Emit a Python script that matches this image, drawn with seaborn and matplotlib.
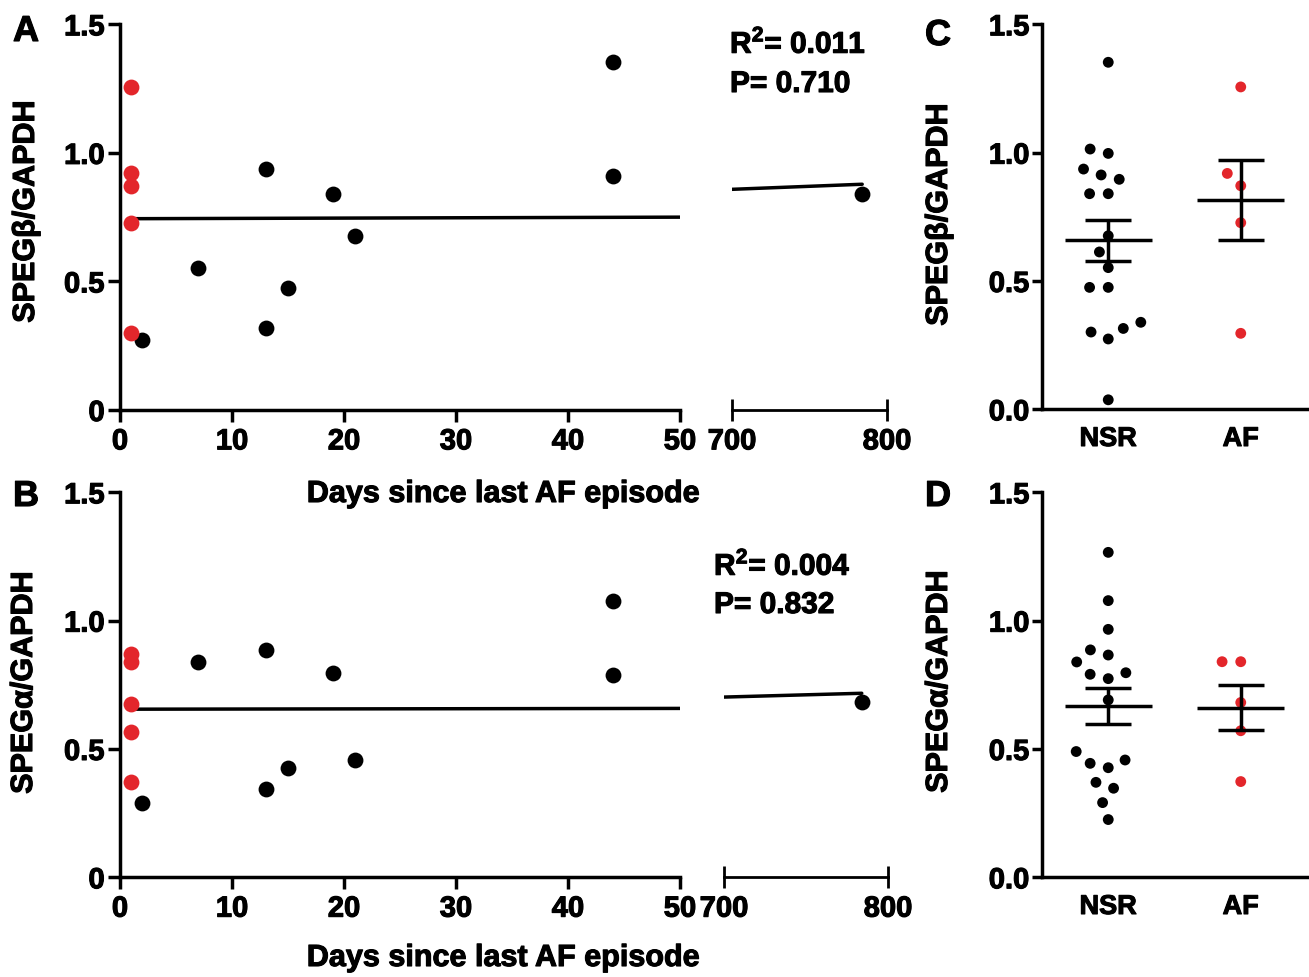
import numpy as np
import pandas as pd
import seaborn as sns
import matplotlib.pyplot as plt
import matplotlib.patheffects as pe

RED = '#e3262b'

# ---- data ----
# A: SPEG beta vs days since last AF episode
a_days_black = [2, 7, 13, 13, 15, 19, 21, 44, 44, 784]
a_vals_black = [0.273, 0.552, 0.936, 0.318, 0.476, 0.840, 0.678, 1.354, 0.911, 0.840]
a_days_red = [1, 1, 1, 1, 1]
a_vals_red = [1.258, 0.920, 0.872, 0.727, 0.298]
a_fit_left_x = [1, 50]
a_fit_left_y = [0.744, 0.750]
a_fit_right_x = [699, 784]
a_fit_right_y = [0.858, 0.878]
a_stats = [r'R$^{\mathbf{2}}$= 0.011', 'P= 0.710']

# B: SPEG alpha vs days since last AF episode
b_days_black = [2, 7, 13, 13, 15, 19, 21, 44, 44, 784]
b_vals_black = [0.291, 0.839, 0.886, 0.343, 0.425, 0.797, 0.457, 1.077, 0.788, 0.684]
b_days_red = [1, 1, 1, 1, 1]
b_vals_red = [0.869, 0.840, 0.677, 0.568, 0.370]
b_fit_left_x = [1.2, 50]
b_fit_left_y = [0.655, 0.658]
b_fit_right_x = [699, 784]
b_fit_right_y = [0.702, 0.717]
b_stats = [r'R$^{\mathbf{2}}$= 0.004', 'P= 0.832']

# C / D: NSR vs AF
groups = ['NSR', 'AF']
c_nsr = [1.352, 1.014, 0.997, 0.936, 0.913, 0.896, 0.840, 0.840, 0.676,
         0.613, 0.552, 0.475, 0.475, 0.339, 0.301, 0.315, 0.274, 0.037]
c_af = [1.256, 0.919, 0.871, 0.727, 0.296]
d_nsr = [1.266, 1.078, 0.966, 0.886, 0.866, 0.839, 0.797, 0.774, 0.791,
         0.691, 0.490, 0.457, 0.427, 0.444, 0.370, 0.347, 0.291, 0.225]
d_af = [0.840, 0.840, 0.681, 0.571, 0.373]

y_ticks = [0, 0.5, 1.0, 1.5]

sns.set_style('ticks')
plt.rcParams['font.family'] = ['Liberation Sans', 'DejaVu Sans']
plt.rcParams['font.weight'] = 'bold'
plt.rcParams['text.color'] = 'black'
plt.rcParams['axes.labelcolor'] = 'black'
plt.rcParams['xtick.color'] = 'black'
plt.rcParams['ytick.color'] = 'black'
plt.rcParams['mathtext.fontset'] = 'custom'
plt.rcParams['mathtext.rm'] = 'Liberation Sans:bold'
plt.rcParams['mathtext.bf'] = 'Liberation Sans:bold'

W, H = 1309, 977
fig = plt.figure(figsize=(W / 100, H / 100), dpi=100)

# slightly heavier strokes on text, like the reference export
THICK = [pe.withStroke(linewidth=0.8, foreground='black')]


def px(l, t, r, b):
    return [l / W, 1 - b / H, (r - l) / W, (b - t) / H]


LW = 2.5
TICK_FS = 21


def style_spines(ax, keep):
    for side in ['left', 'right', 'top', 'bottom']:
        ax.spines[side].set_visible(side in keep)
        ax.spines[side].set_linewidth(LW)
        ax.spines[side].set_color('black')


def bold_labels(ax):
    for lab in ax.get_xticklabels() + ax.get_yticklabels():
        lab.set_fontweight('bold')
        lab.set_path_effects(THICK)


def scatter_panel(rect_l, rect_r, days_b, vals_b, days_r, vals_r,
                  fl_x, fl_y, fr_x, fr_y):
    axl = fig.add_axes(rect_l)
    axr = fig.add_axes(rect_r)
    for ax in (axl, axr):
        sns.scatterplot(x=days_b, y=vals_b, color='black', s=130,
                        linewidth=0, ax=ax, zorder=3, clip_on=False)
        sns.scatterplot(x=days_r, y=vals_r, color=RED, s=130,
                        linewidth=0, ax=ax, zorder=4, clip_on=False)
        ax.set_ylim(0, 1.5)
    sns.lineplot(x=fl_x, y=fl_y, color='black', lw=LW, ax=axl)
    sns.lineplot(x=fr_x, y=fr_y, color='black', lw=LW, ax=axr)

    axl.set_xlim(0, 50)
    axl.set_xticks([0, 10, 20, 30, 40, 50])
    axl.set_xticks([50], minor=True)
    axl.set_yticks(y_ticks)
    axl.set_yticklabels(['0', '0.5', '1.0', '1.5'])
    style_spines(axl, ['left', 'bottom'])
    axl.tick_params(axis='both', which='major', direction='out', length=8.5,
                    width=LW, labelsize=TICK_FS)
    axl.tick_params(axis='x', which='major', pad=4)
    axl.tick_params(axis='y', which='major', pad=2.5)
    axl.tick_params(axis='x', which='minor', direction='in', length=8.5,
                    width=LW)
    axl.set_ylabel('')

    axr.set_xlim(700, 800)
    axr.set_xticks([700, 800])
    axr.set_yticks([])
    style_spines(axr, ['bottom'])
    axr.spines['bottom'].set_linewidth(2.0)
    axr.tick_params(axis='x', direction='inout', length=16, width=2.0,
                    labelsize=TICK_FS, pad=4.5)
    for ax in (axl, axr):
        ax.set_facecolor('none')
        bold_labels(ax)
    return axl, axr


def group_panel(rect, nsr, af, ylab_ticks):
    ax = fig.add_axes(rect)
    df = pd.DataFrame({'group': ['NSR'] * len(nsr) + ['AF'] * len(af),
                       'value': nsr + af})
    sns.swarmplot(data=df, x='group', y='value', hue='group', order=groups,
                  palette={'NSR': 'black', 'AF': RED}, size=7.8, linewidth=5,
                  legend=False, ax=ax, zorder=3)
    for coll in ax.collections:
        coll.set_edgecolor('none')
    for i, vals in enumerate([nsr, af]):
        v = np.array(vals)
        m = v.mean()
        se = v.std(ddof=1) / np.sqrt(len(v))
        ax.hlines(m, i - 0.33, i + 0.33, color='black', lw=LW, zorder=5)
        ax.hlines([m - se, m + se], i - 0.175, i + 0.175, color='black',
                  lw=LW, zorder=5)
        ax.vlines(i, m - se, m + se, color='black', lw=LW, zorder=5)
    ax.set_xlim(-0.5, 1.5)
    ax.set_ylim(0, 1.5)
    ax.set_yticks(y_ticks)
    ax.set_yticklabels(ylab_ticks)
    ax.set_xlabel('')
    ax.set_ylabel('')
    style_spines(ax, ['left', 'bottom'])
    ax.tick_params(axis='y', direction='out', length=7.5, width=LW,
                   labelsize=TICK_FS, pad=1.5)
    ax.tick_params(axis='x', length=0, labelsize=19.5, pad=12)
    ax.set_facecolor('none')
    bold_labels(ax)
    return ax


scatter_panel(px(120, 24.3, 680, 410), px(732, 24.3, 887, 410),
              a_days_black, a_vals_black, a_days_red, a_vals_red,
              a_fit_left_x, a_fit_left_y, a_fit_right_x, a_fit_right_y)
scatter_panel(px(120, 492.3, 680, 877.3), px(724, 492.3, 888, 877.3),
              b_days_black, b_vals_black, b_days_red, b_vals_red,
              b_fit_left_x, b_fit_left_y, b_fit_right_x, b_fit_right_y)
group_panel(px(1042, 24.3, 1307, 409.3), c_nsr, c_af,
            ['0.0', '0.5', '1.0', '1.5'])
group_panel(px(1042, 492.3, 1307, 877.3), d_nsr, d_af,
            ['0.0', '0.5', '1.0', '1.5'])


def ftext(x, y, s, **kw):
    fig.text(x / W, 1 - y / H, s, fontweight='bold', path_effects=THICK, **kw)


# y labels
ftext(26, 212, 'SPEG\u03b2/GAPDH', rotation=90, ha='center', va='center', fontsize=22)
ftext(24, 683, 'SPEG\u03b1/GAPDH', rotation=90, ha='center', va='center', fontsize=22)
ftext(939, 215, 'SPEG\u03b2/GAPDH', rotation=90, ha='center', va='center', fontsize=22)
ftext(939, 682, 'SPEG\u03b1/GAPDH', rotation=90, ha='center', va='center', fontsize=22)

# x labels
ftext(503, 502, 'Days since last AF episode', ha='center', va='baseline', fontsize=22)
ftext(503, 966, 'Days since last AF episode', ha='center', va='baseline', fontsize=22)

# stats
ftext(730, 53, a_stats[0], ha='left', va='baseline', fontsize=21.5)
ftext(730, 92, a_stats[1], ha='left', va='baseline', fontsize=21.5)
ftext(714, 575, b_stats[0], ha='left', va='baseline', fontsize=21.5)
ftext(714, 613, b_stats[1], ha='left', va='baseline', fontsize=21.5)

# panel letters
for letter, x, y in [('A', 13, 41), ('B', 13, 506), ('C', 925, 45), ('D', 925, 506)]:
    ftext(x, y, letter, ha='left', va='baseline', fontsize=26)

fig.savefig('out.png', dpi=100)
